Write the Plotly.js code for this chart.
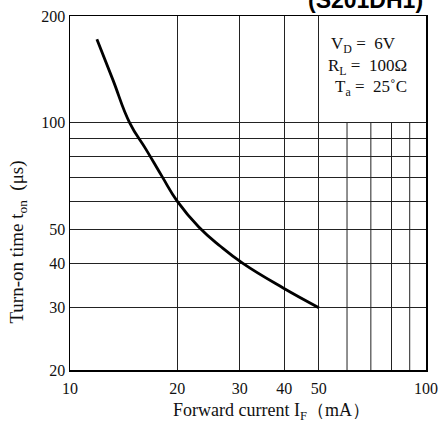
<!DOCTYPE html>
<html>
<head>
<meta charset="utf-8">
<script src="https://cdn.plot.ly/plotly-3.0.1.min.js"></script>
<style>
  html, body { margin: 0; padding: 0; background: #fff; }
  #chart { width: 440px; height: 423px; }
</style>
</head>
<body>
<div id="chart"></div>
<script>
// Turn-on time vs. forward current (S201DH1)
const forwardCurrent = [11.9, 13.2, 14.7, 16.35, 18.2, 20.0, 23.0, 26.4, 30.6, 39.7, 50.0]; // mA
const turnOnTime     = [172, 132, 100, 84, 70, 60, 50.7, 44.8, 40, 34.1, 30];              // µs

// Axis ticks
const xTickVals = [10, 20, 30, 40, 50, 100];
const xTickText = ['10', '20', '30', '40', '50', '100'];
const yTickVals = [20, 30, 40, 50, 60, 70, 80, 90, 100, 200];
const yTickText = ['20', '30', '40', '50', '', '', '', '', '100', '200'];

// Short grid lines that only run from the bottom up to 100 µs
const shortGridX = [60, 70, 80, 90];
const shortGridTop = 100;

// Test conditions
const conditionLines = ['V<sub>D</sub> =  6V', 'R<sub>L</sub> =  100Ω', 'T<sub>a</sub> =  25˚C'];

const serif = 'Liberation Serif, Times New Roman, serif';

const shapes = shortGridX.map(v => ({
  type: 'line', xref: 'x', yref: 'y',
  x0: v, x1: v, y0: yTickVals[0], y1: shortGridTop,
  line: { color: '#222', width: 1 }, layer: 'below'
}));

const condX = [0.727, 0.718, 0.740];
const condY = [0.918, 0.856, 0.797];
const annotations = conditionLines.map((t, i) => ({
  text: t, xref: 'paper', yref: 'paper', x: condX[i], y: condY[i],
  xanchor: 'left', yanchor: 'middle', showarrow: false,
  font: { family: serif, size: 17, color: '#111' }
}));

annotations.push({
  text: '(S201DH1)', xref: 'paper', yref: 'paper', x: 0.997, y: 1.045,
  xanchor: 'right', yanchor: 'middle', showarrow: false,
  font: { family: 'Liberation Sans, Arial, sans-serif', size: 23, color: '#000', weight: 'bold' }
});
annotations.push({
  text: 'Turn-on time t<sub>on</sub>  (μs)', xref: 'paper', yref: 'paper',
  x: -0.146, y: 0.36, xanchor: 'center', yanchor: 'middle', textangle: -90,
  showarrow: false, font: { family: serif, size: 19, color: '#111' }
});
annotations.push({
  text: 'Forward current I<sub>F</sub>（mA）', xref: 'paper', yref: 'paper',
  x: 0.567, y: -0.116, xanchor: 'center', yanchor: 'middle',
  showarrow: false, font: { family: serif, size: 18, color: '#111' }
});

const trace = {
  x: forwardCurrent, y: turnOnTime, type: 'scatter', mode: 'lines',
  line: { color: '#000', width: 2.8, shape: 'spline', smoothing: 1.3 },
  hoverinfo: 'skip'
};

const axisCommon = {
  type: 'log', showline: true, mirror: true, linecolor: '#000', linewidth: 1.5,
  showgrid: true, gridcolor: '#222', gridwidth: 1, zeroline: false,
  ticks: '', tickfont: { family: serif, size: 16, color: '#111' }, tickmode: 'array'
};

const layout = {
  width: 440, height: 423,
  margin: { l: 70, r: 14, t: 16, b: 53 },
  paper_bgcolor: '#fff', plot_bgcolor: '#fff',
  showlegend: false,
  xaxis: Object.assign({}, axisCommon, {
    range: [1, 2], tickvals: xTickVals, ticktext: xTickText, ticklabelstandoff: 3
  }),
  yaxis: Object.assign({}, axisCommon, {
    range: [Math.log10(20), Math.log10(200)], tickvals: yTickVals, ticktext: yTickText
  }),
  shapes: shapes,
  annotations: annotations
};

Plotly.newPlot('chart', [trace], layout, { staticPlot: true, displayModeBar: false });
</script>
</body>
</html>
